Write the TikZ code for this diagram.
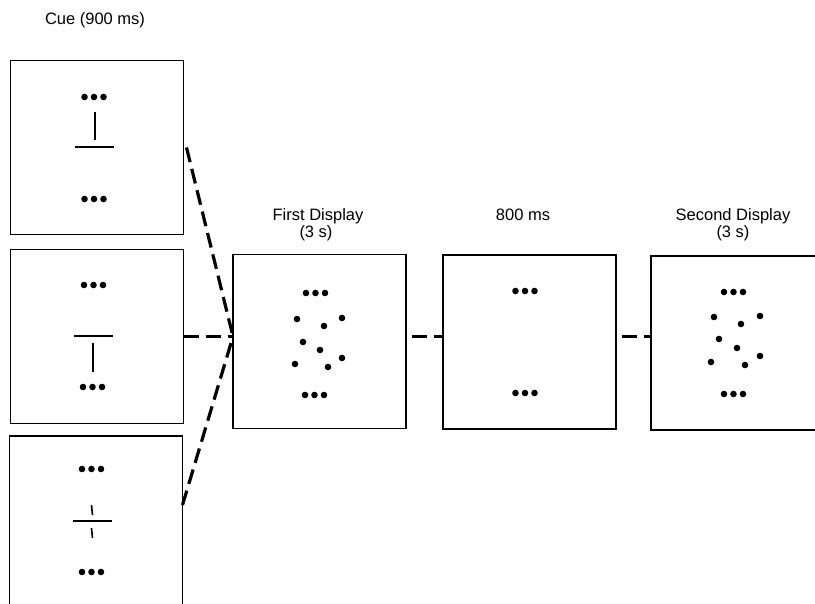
\documentclass[tikz,border=0pt]{standalone}
\usepackage{fontspec}
\setmainfont{Liberation Sans}
\newcommand{\tridots}[2]{\fill (#1-9.5,#2) circle (3.3) (#1,#2) circle (3.3) (#1+9.5,#2) circle (3.3);}
\begin{document}
\begin{tikzpicture}[x=1pt,y=-1pt,
  panel/.style={draw, line width=1.9pt, minimum width=173pt, minimum height=174pt, inner sep=0pt, outer sep=0pt},
  link/.style={line width=3.2pt, dash pattern=on 15pt off 7pt},
  lbl/.style={font=\fontsize{16.5}{18}\selectfont, inner sep=0pt, anchor=base},
  bar/.style={line width=2.2pt},
  stem/.style={line width=1.6pt}]
\useasboundingbox (0,0) rectangle (815,604);
\clip (0,0) rectangle (815,604);
\fill[white] (0,0) rectangle (815,604);

% labels
\node[lbl] (cuelbl) at (95,25) {Cue (900 ms)};
\node[lbl] (firstlbl) at (318,221) {First Display};
\node[lbl] (firstdur) at (316,238) {(3 s)};
\node[lbl] (delaylbl) at (523,221) {800 ms};
\node[lbl] (secondlbl) at (733,221) {Second Display};
\node[lbl] (seconddur) at (733,238) {(3 s)};

% panels
\node[panel] (cue1) at (97,147.5) {};
\node[panel] (cue2) at (97,336.5) {};
\node[panel] (cue3) at (96,523) {};
\node[panel] (first) at (319.5,341.5) {};
\node[panel] (delay) at (529.5,342) {};
\node[panel] (second) at (737.5,343) {};

% cue 1
\tridots{94}{97}
\draw[stem] (95,112) -- (95,140);
\draw[bar] (75,147) -- (114,147);
\tridots{94}{199}
% cue 2
\tridots{93.5}{285}
\draw[bar] (74,336) -- (113,336);
\draw[stem] (93,343) -- (93,372);
\tridots{92.5}{387}
% cue 3
\tridots{91.5}{469}
\draw[stem] (91.5,505) -- (92.5,515);
\draw[bar] (73,521) -- (112,521);
\draw[stem] (91.5,528) -- (92.5,538);
\tridots{91.5}{572}

% first display
\tridots{315.5}{293}
\foreach \p in {(297,319),(342,318),(324,326),(303,342),(320,350),(342,358),(295,364),(328,367)}
  \fill \p circle (3.3);
\tridots{314.5}{395}
% delay
\tridots{525}{291}
\tridots{525}{393}
% second display
\tridots{733.5}{292}
\foreach \p in {(714,317),(760,316),(741,324),(719,339),(737,348),(760,356),(711,362),(745,365)}
  \fill \p circle (3.3);
\tridots{733.5}{394}

% connectors
\coordinate (hub) at (first.west |- cue2.east);
\draw[link] ([xshift=3pt]cue1.east) -- (hub);
\draw[link] (cue2.east) -- (hub);
\draw[link] ([yshift=18pt]cue3.east) -- (hub);
\draw[link, dash phase=-6pt] (first.east |- hub) -- (delay.west |- hub);
\draw[link, dash phase=-6pt] (delay.east |- hub) -- (second.west |- hub);
\end{tikzpicture}
\end{document}
